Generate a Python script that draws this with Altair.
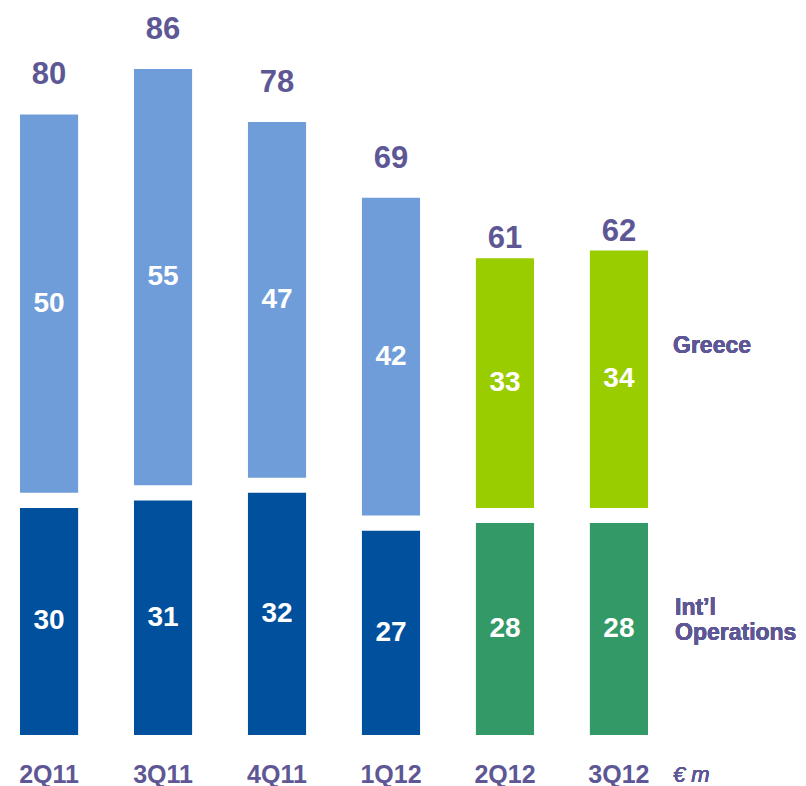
import altair as alt
import pandas as pd

categories = ["2Q11", "3Q11", "4Q11", "1Q12", "2Q12", "3Q12"]
intl_values = [30, 31, 32, 27, 28, 28]
greece_values = [50, 55, 47, 42, 33, 34]
totals = [80, 86, 78, 69, 61, 62]
phases = ["old", "old", "old", "old", "new", "new"]
series_labels = ["Int\u2019l", "Operations", "Greece"]
unit_label = "\u20ac m"

df = pd.DataFrame({
    "cat": categories,
    "intl": intl_values,
    "greece": greece_values,
    "total": totals,
    "phase": phases,
})

PURPLE = "#5E5795"
FONT = "Liberation Sans"
GAP = 2  # visual white gap between segments, in data units

color_scale = alt.Scale(
    domain=["I-old", "I-new", "G-old", "G-new"],
    range=["#00509E", "#339966", "#6F9DD9", "#9ACD00"],
)

x = alt.X("cat:N", sort=categories,
          scale=alt.Scale(paddingInner=0.49, paddingOuter=0),
          axis=alt.Axis(title=None, ticks=False, domain=False, labelAngle=0,
                        labelFont=FONT, labelFontSize=25, labelFontWeight="bold",
                        labelColor=PURPLE, labelPadding=27))
yscale = alt.Scale(domain=[0, 95], nice=False)

base = alt.Chart(df).transform_calculate(
    g0=f"datum.intl + {GAP}",
    g1=f"datum.intl + {GAP} + datum.greece",
    intl_mid="datum.intl / 2",
    g_mid=f"datum.intl + {GAP} + datum.greece / 2",
    ikey="'I-' + datum.phase",
    gkey="'G-' + datum.phase",
)

intl_bar = base.mark_bar().encode(
    x=x,
    y=alt.Y("intl:Q", scale=yscale, axis=None),
    color=alt.Color("ikey:N", scale=color_scale, legend=None),
)
greece_bar = base.mark_bar().encode(
    x=x,
    y=alt.Y("g0:Q", scale=yscale, axis=None),
    y2="g1:Q",
    color=alt.Color("gkey:N", scale=color_scale, legend=None),
)

inner_style = dict(font=FONT, fontSize=28, fontWeight="bold", color="white", baseline="middle", align="center")
intl_text = base.mark_text(**inner_style).encode(
    x=x, y=alt.Y("intl_mid:Q", scale=yscale), text="intl:Q")
greece_text = base.mark_text(**inner_style).encode(
    x=x, y=alt.Y("g_mid:Q", scale=yscale), text="greece:Q")

total_style = dict(font=FONT, fontSize=31, fontWeight="bold", color=PURPLE, baseline="alphabetic", align="center")
total_old = base.transform_filter("datum.phase == 'old'").mark_text(dy=-30, **total_style).encode(
    x=x, y=alt.Y("g1:Q", scale=yscale), text="total:Q")
total_new = base.transform_filter("datum.phase == 'new'").mark_text(dy=-10, **total_style).encode(
    x=x, y=alt.Y("g1:Q", scale=yscale), text="total:Q")

ann_style = dict(font=FONT, fontSize=23, fontWeight="bold", color=PURPLE, align="left", baseline="alphabetic")
greece_lbl = alt.Chart(df).mark_text(**ann_style).encode(
    x=alt.value(653), y=alt.value(337), text=alt.value(series_labels[2]))
intl_lbl1 = alt.Chart(df).mark_text(**ann_style).encode(
    x=alt.value(655), y=alt.value(599), text=alt.value(series_labels[0]))
intl_lbl2 = alt.Chart(df).mark_text(**ann_style).encode(
    x=alt.value(655), y=alt.value(624), text=alt.value(series_labels[1]))
unit_lbl = alt.Chart(df).mark_text(font=FONT, fontSize=22, fontStyle="italic", fontWeight="normal",
                                   color=PURPLE, align="left", baseline="alphabetic").encode(
    x=alt.value(653), y=alt.value(766), text=alt.value(unit_label))

chart = alt.layer(
    intl_bar, greece_bar, intl_text, greece_text, total_old, total_new,
    greece_lbl, intl_lbl1, intl_lbl2, unit_lbl,
).properties(
    width=628, height=719,
    autosize=alt.AutoSizeParams(type="none"),
    padding={"left": 12, "top": 8, "right": 150, "bottom": 51},
).configure_view(stroke=None)

chart.save("out.html", embed_options={"renderer": "svg", "actions": False})
